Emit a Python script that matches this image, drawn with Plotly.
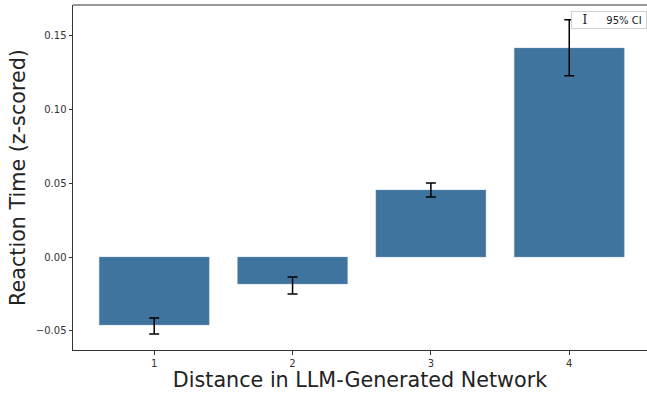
import plotly.graph_objects as go

distance = [1, 2, 3, 4]
tick_labels = ["1", "2", "3", "4"]
mean_rt = [-0.0461, -0.0183, 0.0455, 0.1418]
ci_low = [-0.0522, -0.0251, 0.0407, 0.1230]
ci_high = [-0.0414, -0.0136, 0.0502, 0.1610]

err_plus = [h - m for h, m in zip(ci_high, mean_rt)]
err_minus = [m - l for m, l in zip(mean_rt, ci_low)]

fig = go.Figure()
fig.add_trace(go.Bar(
    x=distance, y=mean_rt, width=0.795,
    marker=dict(color="rgb(63,116,159)", line=dict(color="rgba(120,160,200,0.6)", width=0.6)),
    error_y=dict(type="data", symmetric=False, array=err_plus, arrayminus=err_minus,
                 color="black", thickness=1.5, width=5),
    showlegend=False,
))

font_family = "DejaVu Sans"
fig.update_layout(
    width=647, height=393,
    margin=dict(l=73, r=0, t=5, b=43),
    paper_bgcolor="white", plot_bgcolor="white",
    font=dict(family=font_family, color="#222"),
    xaxis=dict(
        range=[0.413, 4.562], tickmode="array", tickvals=distance, ticktext=tick_labels,
        showline=True, linecolor="#333", linewidth=1, mirror=False,
        ticks="outside", ticklen=3.5, tickcolor="#333", tickfont=dict(size=10, color="#333"),
        showgrid=False, zeroline=False,
        title=dict(text="Distance in LLM-Generated Network", font=dict(size=20.7, color="#222"), standoff=5),
    ),
    yaxis=dict(
        range=[-0.0631, 0.1710], tickvals=[-0.05, 0.0, 0.05, 0.10, 0.15], tickformat=".2f",
        showline=True, linecolor="#333", linewidth=1, mirror=False,
        ticks="outside", ticklen=3.5, tickcolor="#333", tickfont=dict(size=10, color="#333"),
        showgrid=False, zeroline=False,
        title=dict(text="Reaction Time (z-scored)", font=dict(size=20.7, color="#222"), standoff=4),
    ),
    shapes=[dict(type="line", xref="paper", yref="paper", x0=0, x1=1.01, y0=1, y1=1,
                 line=dict(color="#333", width=1))],
    annotations=[dict(
        xref="paper", yref="paper", x=1, y=1, xanchor="right", yanchor="top",
        xshift=0, yshift=-6,
        text="&nbsp;&nbsp;&nbsp;<span style='font-family:DejaVu Serif;font-size:12px'>I</span>&nbsp;&nbsp;&nbsp;&nbsp;&nbsp;&nbsp;95% CI&nbsp;",
        showarrow=False, font=dict(size=10, color="#222"),
        bordercolor="#d0d0d0", borderwidth=1, borderpad=1, bgcolor="white", align="left",
    )],
)

fig.write_html("out.html", config={"displayModeBar": False})
